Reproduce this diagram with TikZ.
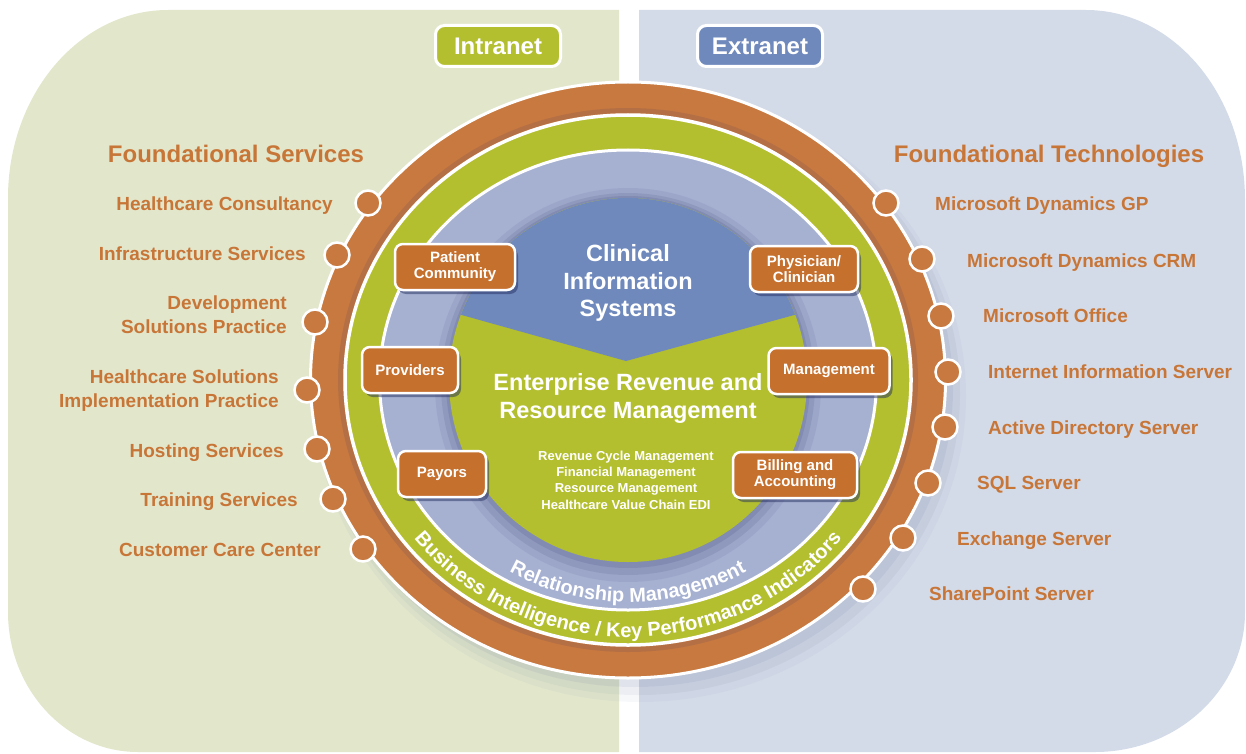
\documentclass[tikz,border=0pt]{standalone}
\usepackage{fontspec}
\setmainfont{Liberation Sans}
\usepackage{tikz}
\usetikzlibrary{shadows}
\usetikzlibrary{positioning}
\usetikzlibrary{calc}
\usetikzlibrary{decorations.text}

\definecolor{leftbg}{RGB}{226,231,204}
\definecolor{rightbg}{RGB}{212,219,232}
\definecolor{ringorange}{RGB}{200,121,64}
\definecolor{boxorange}{RGB}{198,112,46}
\definecolor{txtorange}{RGB}{200,118,56}
\definecolor{ringgreen}{RGB}{179,191,46}
\definecolor{cisblue}{RGB}{111,137,189}
\definecolor{relblue}{RGB}{166,177,210}
\definecolor{navyshade}{RGB}{38,48,98}
\definecolor{haze}{RGB}{96,114,156}

\newcommand\ringfont{\bfseries\fontsize{20}{20}\selectfont}

\begin{document}
\begin{tikzpicture}[x=1pt, y=1pt,
        tag/.style={rectangle, rounded corners=9pt, draw=white, line width=3pt, minimum width=125pt, minimum height=41pt, text=white, font=\bfseries\fontsize{24}{24}\selectfont},
        heading/.style={text=txtorange, inner sep=0pt, font=\bfseries\fontsize{24}{24}\selectfont},
        item/.style={text=txtorange, inner sep=0pt, font=\bfseries\fontsize{19}{24}\selectfont},
        knob/.style={circle, fill=ringorange, draw=white, line width=2.5pt, minimum size=25pt, inner sep=0pt},
        actor/.style={rectangle, rounded corners=8pt, fill=boxorange, draw=white, line width=2.5pt, minimum height=46pt, text=white, align=center, inner sep=2pt, font=\bfseries\fontsize{15}{16}\selectfont, drop shadow={shadow xshift=3pt, shadow yshift=-4pt, fill=navyshade, opacity=.5}},
        core/.style={text=white, align=center, inner sep=0pt}
      ]
        \useasboundingbox (0,0) rectangle (1246,-754);

        \fill[leftbg] (619,-10) -- (168,-10) arc[start angle=90, end angle=180, x radius=160, y radius=188] -- (8,-612) arc[start angle=180, end angle=270, x radius=130, y radius=140] -- (619,-752) -- cycle;
        \fill[rightbg] (639,-10) -- (1086,-10) arc[start angle=90, end angle=0, x radius=159, y radius=190] -- (1245,-612) arc[start angle=0, end angle=-90, x radius=150, y radius=140] -- (639,-752) -- cycle;

        \coordinate (c) at (628,-380);

        \fill[haze, opacity=.05] ($(c)+(12,-16)$) ellipse [x radius=326, y radius=306];
        \fill[haze, opacity=.07] ($(c)+(10,-13)$) ellipse [x radius=322, y radius=302];
        \fill[haze, opacity=.09] ($(c)+(7,-9)$) ellipse [x radius=318, y radius=298];

        \filldraw[fill=ringorange, draw=white, line width=3pt] (c) ellipse [x radius=317.5, y radius=298];
        \draw[navyshade, opacity=.12, line width=5pt] (c) ellipse [x radius=287.5, y radius=269.5];
        \filldraw[fill=ringgreen, draw=white, line width=3.5pt] (c) ellipse [x radius=283, y radius=265];
        \filldraw[fill=relblue, draw=white, line width=3pt] (c) ellipse [x radius=248.5, y radius=230];

        \fill[navyshade, opacity=.08] ($(c)+(0,-5)$) ellipse [x radius=193, y radius=197];
        \fill[navyshade, opacity=.10] ($(c)+(0,-4)$) ellipse [x radius=187, y radius=191];
        \fill[navyshade, opacity=.12] ($(c)+(0,-2)$) ellipse [x radius=182, y radius=186];

        \fill[ringgreen] (c) ellipse [x radius=179, y radius=182];
        \fill[cisblue] (626,-361) -- ([shift={(c)}]159:179 and 182) arc[start angle=159, end angle=21, x radius=179, y radius=182] -- cycle;

        \path[decorate, decoration={text along path, text align=center, text color=white, text={|\ringfont|Relationship Management}}]
          ([shift={(c)}]205:236 and 222) arc[start angle=205, end angle=335, x radius=236, y radius=222];
        \path[decorate, decoration={text along path, text align=center, text color=white, text={|\ringfont|Business Intelligence / Key Performance Indicators}}]
          ([shift={(c)}]200:272 and 257) arc[start angle=200, end angle=340, x radius=272, y radius=257];

        \node[core, font=\bfseries\fontsize{23.5}{27.5}\selectfont] (cis)  at (628,-283) {Clinical\\Information\\Systems};
        \node[core, font=\bfseries\fontsize{23.5}{28}\selectfont]   (errm) at (628,-398.5) {Enterprise Revenue and\\Resource Management};
        \node[core, font=\bfseries\fontsize{13}{16.4}\selectfont]   (subs) at (626,-480) {Revenue Cycle Management\\Financial Management\\Resource Management\\Healthcare Value Chain EDI};

        \node[actor, minimum width=120pt] (patient)  at (455,-267) {Patient\\Community};
        \node[actor, minimum width=108pt] (physician) at (804,-269) {Physician/\\Clinician};
        \node[actor, minimum width=96pt]  (providers) at (410,-370) {Providers};
        \node[actor, minimum width=121pt] (mgmt)     at (829,-371) {Management};
        \node[actor, minimum width=88pt]  (payors)   at (442,-474) {Payors};
        \node[actor, minimum width=124pt] (billing)  at (795,-475) {Billing and\\Accounting};

        \node[tag, fill=ringgreen] (intra) at (498,-46) {Intranet};
        \node[tag, fill=cisblue]   (extra) at (760,-46) {Extranet};

        \node[heading, anchor=base] (fserv) at (236,-163) {Foundational Services};
        \node[heading, anchor=base] (ftech) at (1049,-163) {Foundational Technologies};

        \node[knob] (s1) at (368,-203) {};
        \node[knob] (s2) at (337,-255) {};
        \node[knob] (s3) at (315,-322) {};
        \node[knob] (s4) at (307,-390) {};
        \node[knob] (s5) at (317,-449) {};
        \node[knob] (s6) at (333,-499) {};
        \node[knob] (s7) at (363,-549) {};

        \node[knob] (t1) at (886,-203) {};
        \node[knob] (t2) at (922,-259) {};
        \node[knob] (t3) at (941,-316) {};
        \node[knob] (t4) at (948,-372) {};
        \node[knob] (t5) at (945,-427) {};
        \node[knob] (t6) at (928,-483) {};
        \node[knob] (t7) at (903,-538) {};
        \node[knob] (t8) at (863,-589) {};

        \node[item, anchor=base east] (consult)  at (333,-210.5) {Healthcare Consultancy};
        \node[item, anchor=base east] (infra)    at (306,-260) {Infrastructure Services};
        \node[item, anchor=east, align=right] (devsol) at (287,-314.5) {Development\\Solutions Practice};
        \node[item, anchor=east, align=right] (hcsol)  at (279,-390.5) {Healthcare Solutions\\Implementation Practice};
        \node[item, anchor=base east] (hosting)  at (284,-457) {Hosting Services};
        \node[item, anchor=base east] (training) at (298,-506) {Training Services};
        \node[item, anchor=base east] (care)     at (321,-556) {Customer Care Center};

        \node[item, anchor=base west] (gp)    at (935,-210) {Microsoft Dynamics GP};
        \node[item, anchor=base west] (crm)   at (967,-267) {Microsoft Dynamics CRM};
        \node[item, anchor=base west] (office) at (983,-322.5) {Microsoft Office};
        \node[item, anchor=base west] (iis)   at (988,-378.5) {Internet Information Server};
        \node[item, anchor=base west] (ads)   at (988,-434) {Active Directory Server};
        \node[item, anchor=base west] (sql)   at (977,-489.5) {SQL Server};
        \node[item, anchor=base west] (exch)  at (957,-545) {Exchange Server};
        \node[item, anchor=base west] (sp)    at (929,-600) {SharePoint Server};
      \end{tikzpicture}
\end{document}
